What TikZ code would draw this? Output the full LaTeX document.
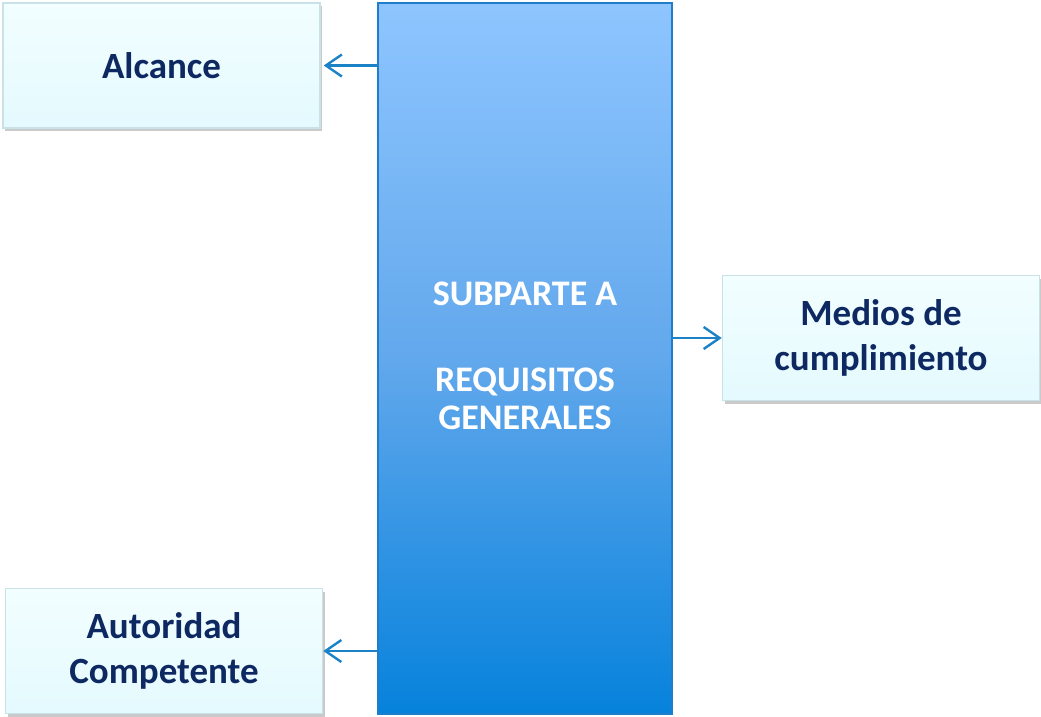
\documentclass[tikz,border=0pt]{standalone}
\usepackage{fontspec}
\setmainfont{Carlito}
\usetikzlibrary{arrows.meta,shadows}
\definecolor{navy}{RGB}{14,40,98}
\definecolor{arrowblue}{RGB}{27,130,200}
\definecolor{boxtop}{RGB}{242,254,255}
\definecolor{boxbot}{RGB}{228,250,254}
\definecolor{boxline}{RGB}{200,226,232}
\definecolor{bigtop}{RGB}{142,197,255}
\definecolor{bigmid}{RGB}{98,168,236}
\definecolor{bigbot}{RGB}{6,130,220}
\definecolor{bigline}{RGB}{30,126,204}
\tikzset{
  leafbox/.style={draw=boxline, line width=1.5pt, top color=boxtop, bottom color=boxbot,
    minimum width=317pt, minimum height=125pt, inner sep=0pt, align=center,
    text=navy, font=\bfseries\fontsize{37}{45}\selectfont,
    drop shadow={shadow xshift=2pt, shadow yshift=-3pt, opacity=0.35, fill=black!60}},
  mainbox/.style={draw=bigline, line width=1.5pt, top color=bigtop, bottom color=bigbot,
    middle color=bigmid, shading angle=0,
    minimum width=294pt, minimum height=711pt, inner sep=0pt},
  conn/.style={draw=arrowblue, line width=2.4pt, -{Straight Barb[length=16pt,width=22pt,line width=2.4pt]}},
  maintext/.style={text=white, font=\bfseries\fontsize{36}{38}\selectfont, anchor=base, inner sep=0pt}
}
\begin{document}
\begin{tikzpicture}[x=1pt,y=-1pt]
\useasboundingbox (0,0) rectangle (1041,716);
\node[mainbox] (big) at (525,358.5) {};
\node[maintext] (t1) at (525,305) {SUBPARTE A};
\node[maintext] (t2) at (525,391) {REQUISITOS};
\node[maintext] (t3) at (525,429) {GENERALES};
\node[leafbox] (alc) at (161.5,65.5) {Alcance};
\node[leafbox] (med) at (881,338) {Medios de\\cumplimiento};
\node[leafbox] (aut) at (164,651) {Autoridad\\Competente};
\draw[conn] (big.west |- alc.east) -- ([xshift=3pt]alc.east);
\draw[conn] (big.east |- med.west) -- (med.west);
\draw[conn] (big.west |- aut.east) -- (aut.east);
\end{tikzpicture}
\end{document}
